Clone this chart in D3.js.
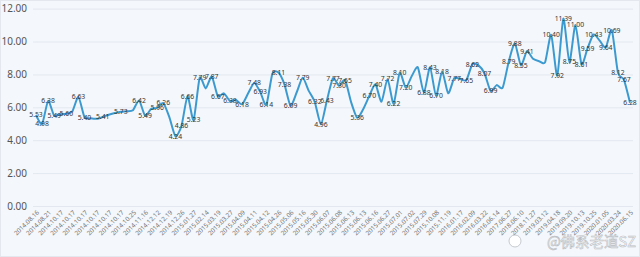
<!DOCTYPE html>
<html><head><meta charset="utf-8">
<script src="https://cdn.jsdelivr.net/npm/d3@7/dist/d3.min.js"></script>
<style>
html,body{margin:0;padding:0;background:#f4f7fb;}
svg{display:block;}
</style></head>
<body><svg id="c" width="640" height="257"></svg>
<script>
const tickLabels = ["2014.08.16","2014.08.21","2014.10.17","2014.10.17","2014.10.17","2014.10.17","2014.10.17","2014.10.17","2014.10.25","2014.11.16","2014.12.12","2014.12.19","2014.12.26","2015.01.27","2015.02.14","2015.03.19","2015.03.27","2015.04.09","2015.04.11","2015.04.12","2015.04.26","2015.05.06","2015.05.16","2015.05.30","2015.06.07","2015.06.08","2015.06.13","2015.06.13","2015.06.16","2015.06.27","2015.07.01","2015.07.02","2015.07.29","2015.10.08","2015.11.19","2016.01.17","2016.02.09","2016.03.22","2016.06.14","2017.06.27","2018.06.10","2018.11.27","2019.03.12","2019.04.18","2019.09.20","2019.10.13","2019.10.25","2020.01.05","2020.03.24","2020.06.15"];
const values = [5.53,4.98,6.38,5.49,5.58,5.60,5.75,6.63,5.40,5.33,5.30,5.41,5.55,5.65,5.73,5.76,5.82,6.42,5.49,5.90,5.96,6.26,5.40,4.24,4.86,6.66,5.23,7.79,7.15,7.87,6.67,6.85,6.38,6.45,6.18,6.85,7.48,6.93,6.14,8.05,8.11,7.38,6.09,6.90,7.79,7.00,6.32,4.96,6.43,7.77,7.30,7.65,6.30,5.36,5.90,6.70,7.40,6.34,7.72,6.22,8.10,7.20,7.90,8.43,6.88,8.43,6.70,8.18,6.85,7.77,7.72,7.65,8.62,8.55,8.07,6.99,7.35,7.20,8.79,9.88,8.55,9.41,8.95,8.80,8.75,10.40,7.92,11.39,8.75,11.00,8.61,9.59,10.43,10.05,9.64,10.69,8.12,7.67,6.28];
const hiddenLabels = [4,6,9,10,12,13,15,16,19,22,28,31,33,35,39,43,45,52,54,57,62,63,68,70,73,76,77,82,83,84,93];
const yTicks = [0,2,4,6,8,10,12];

const svg = d3.select("#c");
const W = 640, H = 257;
const mLeft = 36, mRight = 630, mTop = 8.6, mBottom = 206;
const x = d3.scaleLinear().domain([0, values.length - 1]).range([mLeft, mRight]);
const y = d3.scaleLinear().domain([0, 12]).range([mBottom, mTop]);

svg.append("rect").attr("width", W).attr("height", H).attr("fill", "#f4f7fb");
svg.append("rect").attr("x", 0.5).attr("y", 0.5).attr("width", W - 1).attr("height", H - 1)
  .attr("fill", "none").attr("stroke", "#e4e8ee");

// y axis with grid
const ya = svg.append("g").attr("transform", `translate(${mLeft - 3},0)`)
  .call(d3.axisLeft(y).tickValues(yTicks).tickFormat(d3.format(".2f"))
    .tickSize(-(mRight - mLeft + 6)).tickPadding(6));
ya.select(".domain").remove();
ya.selectAll(".tick line").attr("stroke", "#e3e8f0").attr("stroke-width", 1);
ya.selectAll(".tick text").attr("fill", "#555").attr("font-size", "10px")
  .attr("font-family", "'Noto Sans', 'DejaVu Sans', sans-serif");

// x axis
const evenIdx = d3.range(0, values.length, 2);
const xa = svg.append("g").attr("transform", `translate(0,${mBottom})`)
  .call(d3.axisBottom(x).tickValues(evenIdx).tickFormat(i => tickLabels[i / 2]).tickSize(0));
xa.select(".domain").remove();
xa.selectAll(".tick text")
  .attr("y", 0).attr("dy", 0).attr("x", 0)
  .attr("text-anchor", "end")
  .attr("transform", "translate(3,7) rotate(-45)")
  .attr("fill", "#707070").attr("font-size", "6.3px")
  .attr("font-family", "'Noto Sans', 'DejaVu Sans', sans-serif");

// line
const line = d3.line().x((d, i) => x(i)).y(d => y(d)).curve(d3.curveCardinal.tension(0.35));
svg.append("path").datum(values).attr("d", line)
  .attr("fill", "none").attr("stroke", "#3c9ad0").attr("stroke-width", 2);

// data labels
const hid = new Set(hiddenLabels);
svg.append("g").selectAll("text")
  .data(values.map((v, i) => ({v, i})).filter(d => !hid.has(d.i)))
  .join("text")
  .attr("x", d => x(d.i)).attr("y", d => y(d.v)).attr("dy", "0.35em")
  .attr("text-anchor", "middle")
  .attr("font-size", "6.8px")
  .attr("font-family", "'Noto Sans', 'DejaVu Sans', sans-serif")
  .attr("fill", "#333")
  .text(d => d.v.toFixed(2));

// watermark
svg.append("text").attr("x", 636).attr("y", 247).attr("text-anchor", "end")
  .attr("font-size", "14.5px").attr("font-family", "'Noto Sans CJK SC', sans-serif")
  .attr("fill", "#ffffff").attr("stroke", "#b8bcc2").attr("stroke-width", 0.6)
  .text("@佛系老道SZ");
svg.append("circle").attr("cx", 515).attr("cy", 241).attr("r", 6)
  .attr("fill", "#fff").attr("stroke", "#b8bcc2").attr("stroke-width", 0.8);
</script></body></html>
